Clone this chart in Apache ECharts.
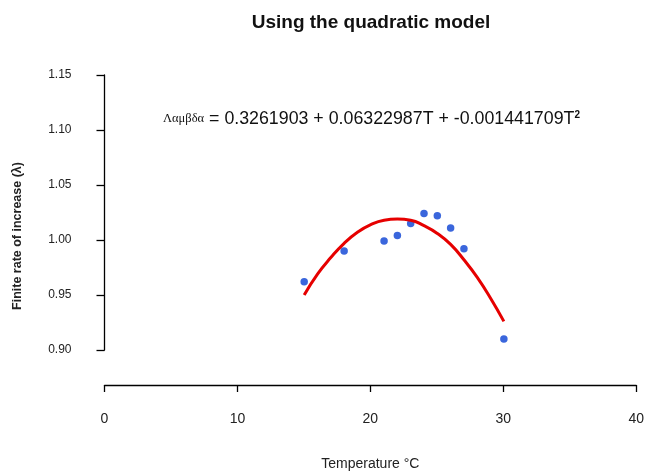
<!DOCTYPE html>
<html>
<head>
<meta charset="utf-8">
<script src="https://cdn.jsdelivr.net/npm/echarts@6/dist/echarts.min.js"></script>
<style>
  html, body { margin: 0; padding: 0; background: #fff; }
  #chart { width: 647px; height: 476px; }
</style>
</head>
<body>
<div id="chart"></div>
<script>
// Observed finite rate of increase at each rearing temperature
const temperatures = [15, 18, 21, 22, 23, 24, 25, 26, 27, 30];
const lambdaObserved = [0.962, 0.990, 0.999, 1.004, 1.015, 1.024, 1.022, 1.011, 0.992, 0.910];

// Quadratic model curve, sampled at whole degrees
const fitTemperatures = [15, 16, 17, 18, 19, 20, 21, 22, 23, 24, 25, 26, 27, 28, 29, 30];
const fitLambda = [0.950, 0.969, 0.984, 0.997, 1.007, 1.014, 1.018, 1.019, 1.018, 1.013, 1.006, 0.996, 0.982, 0.966, 0.947, 0.926];

// Axis ticks
const xTicks = [0, 10, 20, 30, 40];
const yTicks = [0.90, 0.95, 1.00, 1.05, 1.10, 1.15];

const titleText = 'Using the quadratic model';
const xTitle = 'Temperature \u00B0C';
const yTitle = 'Finite rate of increase (\u03BB)';

const sans = "'Liberation Sans', Arial, sans-serif";
const serif = "'Liberation Serif', 'Times New Roman', serif";

const plotLeft = 104.5, plotRight = 10, plotTop = 75;

const chart = echarts.init(document.getElementById('chart'), null, { renderer: 'canvas' });

const pairs = (xs, ys) => xs.map((x, i) => [x, ys[i]]);

chart.setOption({
  animation: false,
  backgroundColor: '#ffffff',
  grid: [
    // y range 0.90 – 1.15
    { left: plotLeft, right: plotRight, top: plotTop, height: 275 },
    // detached x axis sitting below the data region
    { left: plotLeft, right: plotRight, top: plotTop, bottom: 86 }
  ],
  xAxis: [
    { gridIndex: 0, type: 'value', min: xTicks[0], max: xTicks[xTicks.length - 1], show: false },
    {
      gridIndex: 1, type: 'value',
      min: xTicks[0], max: xTicks[xTicks.length - 1], interval: 10,
      axisLine: { show: true, lineStyle: { color: '#000', width: 1.3 } },
      axisTick: { show: true, length: 7, inside: false, lineStyle: { color: '#000', width: 1.3 } },
      axisLabel: { color: '#222', fontFamily: sans, fontSize: 14, margin: 27,
        formatter: v => xTicks.includes(v) ? String(v) : '' },
      splitLine: { show: false },
      name: xTitle, nameLocation: 'middle', nameGap: 72,
      nameTextStyle: { color: '#222', fontFamily: sans, fontSize: 14 }
    }
  ],
  yAxis: [
    {
      gridIndex: 0, type: 'value',
      min: yTicks[0], max: yTicks[yTicks.length - 1], interval: 0.05,
      axisLine: { show: true, lineStyle: { color: '#000', width: 1.3 } },
      axisTick: { show: true, length: 8, inside: false, lineStyle: { color: '#000', width: 1.3 } },
      axisLabel: { color: '#222', fontFamily: sans, fontSize: 12, margin: 33,
        formatter: v => v.toFixed(2) },
      splitLine: { show: false }
    },
    { gridIndex: 1, type: 'value', show: false, min: 0, max: 1 }
  ],
  graphic: [
    {
      type: 'text', x: 371, y: 23,
      style: { text: titleText, fontFamily: sans, fontWeight: 'bold', fontSize: 19,
        fill: '#111', align: 'center', verticalAlign: 'middle' }
    },
    {
      type: 'text', x: 18, y: 236, rotation: Math.PI / 2,
      style: { text: yTitle, fontFamily: sans, fontWeight: 'bold', fontSize: 12.5,
        fill: '#222', align: 'center', verticalAlign: 'middle' }
    },
    {
      type: 'text', x: 163, y: 119,
      style: {
        text: '{g|\u039B\u03B1\u03BC\u03B2\u03B4\u03B1}{n| = 0.3261903 + 0.06322987T + -0.001441709T}{s|2}',
        align: 'left', verticalAlign: 'middle',
        rich: {
          g: { fontFamily: serif, fontSize: 12.5, fill: '#111', verticalAlign: 'middle' },
          n: { fontFamily: sans, fontSize: 17.8, fill: '#111', verticalAlign: 'middle' },
          s: { fontFamily: sans, fontSize: 10, fontWeight: 'bold', fill: '#111', verticalAlign: 'top' }
        }
      }
    }
  ],
  series: [
    {
      type: 'scatter', xAxisIndex: 0, yAxisIndex: 0,
      data: pairs(temperatures, lambdaObserved),
      symbol: 'circle', symbolSize: 7.5,
      itemStyle: { color: '#3a66dc', opacity: 1 },
      z: 2
    },
    {
      type: 'line', xAxisIndex: 0, yAxisIndex: 0,
      data: pairs(fitTemperatures, fitLambda),
      smooth: true, showSymbol: false,
      lineStyle: { color: '#e60000', width: 3 },
      z: 3
    }
  ]
});
</script>
</body>
</html>
